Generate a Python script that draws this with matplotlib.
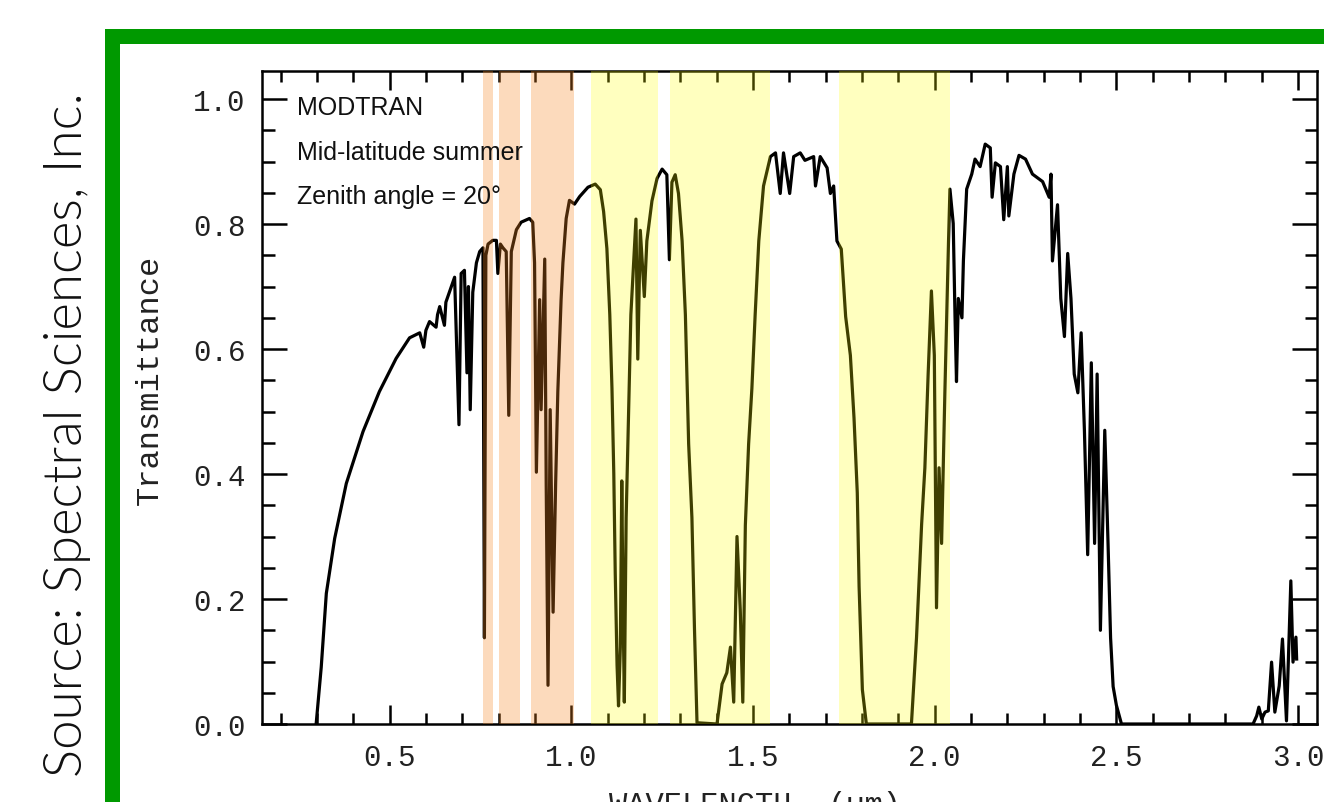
import matplotlib
matplotlib.use("Agg")
import matplotlib.pyplot as plt
from matplotlib.patches import Rectangle
from matplotlib.ticker import MultipleLocator, FormatStrFormatter

# Data (wavelength in um)
wavelength = [
    0.298, 0.312, 0.326, 0.349, 0.381, 0.427, 0.472, 0.518, 0.555, 0.583,
    0.594, 0.600, 0.610, 0.628, 0.632, 0.638, 0.651, 0.655, 0.661, 0.679,
    0.691, 0.697, 0.706, 0.713, 0.717, 0.722, 0.729, 0.739, 0.748, 0.757,
    0.761, 0.765, 0.771, 0.784, 0.794, 0.798, 0.805, 0.812, 0.821, 0.828,
    0.835, 0.849, 0.862, 0.885, 0.894, 0.899, 0.904, 0.913, 0.917, 0.927,
    0.931, 0.936, 0.942, 0.950, 0.957, 0.963, 0.972, 0.977, 0.986, 0.995,
    1.009, 1.023, 1.046, 1.066, 1.080, 1.089, 1.098, 1.106, 1.112, 1.117,
    1.121, 1.126, 1.130, 1.135, 1.139, 1.142, 1.146, 1.151, 1.158, 1.164,
    1.172, 1.178, 1.183, 1.190, 1.201, 1.208, 1.222, 1.236, 1.250, 1.263,
    1.270, 1.277, 1.286, 1.295, 1.305, 1.314, 1.323, 1.332, 1.339, 1.346,
    1.401, 1.415, 1.428, 1.438, 1.447, 1.456, 1.465, 1.472, 1.479, 1.488,
    1.497, 1.506, 1.516, 1.529, 1.548, 1.562, 1.575, 1.584, 1.601, 1.612,
    1.630, 1.643, 1.667, 1.672, 1.685, 1.704, 1.713, 1.722, 1.731, 1.743,
    1.755, 1.768, 1.778, 1.787, 1.792, 1.801, 1.812, 1.936, 1.950, 1.964,
    1.973, 1.982, 1.991, 1.999, 2.005, 2.012, 2.019, 2.028, 2.038, 2.042,
    2.051, 2.056, 2.060, 2.065, 2.075, 2.079, 2.088, 2.102, 2.111, 2.125,
    2.139, 2.153, 2.158, 2.167, 2.181, 2.190, 2.200, 2.204, 2.218, 2.232,
    2.250, 2.269, 2.297, 2.315, 2.320, 2.324, 2.338, 2.347, 2.357, 2.366,
    2.375, 2.384, 2.394, 2.403, 2.412, 2.421, 2.431, 2.440, 2.447, 2.456,
    2.468, 2.477, 2.484, 2.491, 2.500, 2.514, 2.876, 2.886, 2.892, 2.900,
    2.909, 2.918, 2.927, 2.936, 2.948, 2.957, 2.968, 2.980, 2.986, 2.994,
    2.996,
]
transmittance = [
    0.000, 0.091, 0.209, 0.297, 0.385, 0.468, 0.532, 0.585, 0.618, 0.626,
    0.603, 0.630, 0.644, 0.635, 0.655, 0.668, 0.638, 0.675, 0.685, 0.715,
    0.479, 0.721, 0.726, 0.562, 0.700, 0.503, 0.691, 0.738, 0.756, 0.762,
    0.138, 0.750, 0.768, 0.774, 0.774, 0.721, 0.768, 0.762, 0.756, 0.494,
    0.756, 0.791, 0.803, 0.809, 0.803, 0.738, 0.403, 0.679, 0.503, 0.744,
    0.385, 0.062, 0.503, 0.179, 0.385, 0.532, 0.679, 0.738, 0.809, 0.838,
    0.832, 0.844, 0.859, 0.864, 0.855, 0.820, 0.761, 0.655, 0.537, 0.401,
    0.241, 0.094, 0.029, 0.123, 0.389, 0.212, 0.035, 0.330, 0.507, 0.655,
    0.743, 0.808, 0.584, 0.790, 0.684, 0.773, 0.837, 0.873, 0.888, 0.879,
    0.743, 0.867, 0.879, 0.849, 0.773, 0.655, 0.448, 0.330, 0.153, 0.002,
    0.000, 0.064, 0.082, 0.123, 0.035, 0.300, 0.183, 0.035, 0.318, 0.448,
    0.537, 0.655, 0.773, 0.861, 0.908, 0.914, 0.849, 0.914, 0.849, 0.908,
    0.914, 0.902, 0.908, 0.861, 0.908, 0.890, 0.849, 0.861, 0.773, 0.760,
    0.652, 0.590, 0.490, 0.370, 0.220, 0.055, 0.000, 0.000, 0.138, 0.319,
    0.410, 0.560, 0.693, 0.590, 0.186, 0.410, 0.289, 0.530, 0.771, 0.856,
    0.801, 0.650, 0.548, 0.681, 0.650, 0.741, 0.856, 0.880, 0.904, 0.892,
    0.928, 0.922, 0.843, 0.898, 0.892, 0.807, 0.892, 0.813, 0.880, 0.910,
    0.904, 0.880, 0.868, 0.843, 0.880, 0.741, 0.831, 0.681, 0.620, 0.753,
    0.681, 0.560, 0.530, 0.626, 0.470, 0.271, 0.578, 0.289, 0.560, 0.150,
    0.470, 0.289, 0.138, 0.060, 0.030, 0.000, 0.000, 0.013, 0.027, 0.008,
    0.019, 0.021, 0.099, 0.019, 0.061, 0.136, 0.005, 0.229, 0.099, 0.139,
    0.104,
]

# highlighted bands (start, end) in um
orange_bands = [(0.757, 0.784), (0.801, 0.860), (0.890, 1.008)]
yellow_bands = [(1.053, 1.240), (1.272, 1.548), (1.736, 2.041)]

notes = ["MODTRAN", "Mid-latitude summer", "Zenith angle = 20\u00b0"]
note_y = [0.987, 0.915, 0.845]

W, H = 1324, 803
fig = plt.figure(figsize=(W / 100, H / 100), dpi=100)
fig.patch.set_facecolor("white")

ax = fig.add_axes([262 / W, 1 - 725 / H, (1317 - 262) / W, (725 - 72) / H])
ax.plot(wavelength, transmittance, color="black", lw=2.3, zorder=2)

# bands sit on top of the curve so it shows through darkened
for a, b in orange_bands:
    ax.axvspan(a, b, color=(0.97, 0.53, 0.13), alpha=0.30, lw=0, zorder=3)
for a, b in yellow_bands:
    ax.axvspan(a, b, color=(1.0, 1.0, 0.0), alpha=0.25, lw=0, zorder=3)

ax.set_xlim(0.149, 3.052)
ax.set_ylim(0, 1.045)

ax.xaxis.set_major_locator(MultipleLocator(0.5))
ax.xaxis.set_minor_locator(MultipleLocator(0.1))
ax.yaxis.set_major_locator(MultipleLocator(0.2))
ax.yaxis.set_minor_locator(MultipleLocator(0.05))
ax.xaxis.set_major_formatter(FormatStrFormatter("%.1f"))
ax.yaxis.set_major_formatter(FormatStrFormatter("%.1f"))

mono = "Liberation Mono"
ax.tick_params(which="both", direction="in", top=True, right=True, width=1.8,
               color="black")
ax.tick_params(axis="x", which="major", length=14, pad=14)
ax.tick_params(axis="x", which="minor", length=8)
ax.tick_params(axis="y", which="major", length=18, pad=12)
ax.tick_params(axis="y", which="minor", length=9)
for lab in ax.get_xticklabels() + ax.get_yticklabels():
    lab.set_fontfamily(mono)
    lab.set_fontsize(21)
    lab.set_color("#222222")
for s in ax.spines.values():
    s.set_linewidth(1.8)

for t, y in zip(notes, note_y):
    ax.text(0.246, y, t, fontsize=18, family="Liberation Sans", va="center",
            ha="left", zorder=4, color="#111111")

fig.text(150 / W, 1 - 380 / H, "Transmittance", rotation=90, family=mono,
         fontsize=23, ha="center", va="center", color="#222222")
fig.text(755 / W, 1 - 814 / H, "WAVELENGTH  (\u00b5m)", family=mono,
         fontsize=22, ha="center", va="baseline", color="#222222")

# green frame around the slide figure
green = "#009900"
fig.add_artist(Rectangle((105 / W, 1 - 45 / H), 1.0, 15 / H,
                         transform=fig.transFigure, color=green, lw=0))
fig.add_artist(Rectangle((105 / W, -0.01), 15 / W, 1 - 30 / H + 0.01,
                         transform=fig.transFigure, color=green, lw=0))

fig.text(82 / W, 1 - 435 / H, "Source: Spectral Sciences, Inc.", rotation=90,
         rotation_mode="anchor", family=["Lato", "DejaVu Sans"],
         fontweight=300, fontsize=38, ha="center", va="baseline",
         color="#111111")

fig.savefig("out.png", dpi=100)
